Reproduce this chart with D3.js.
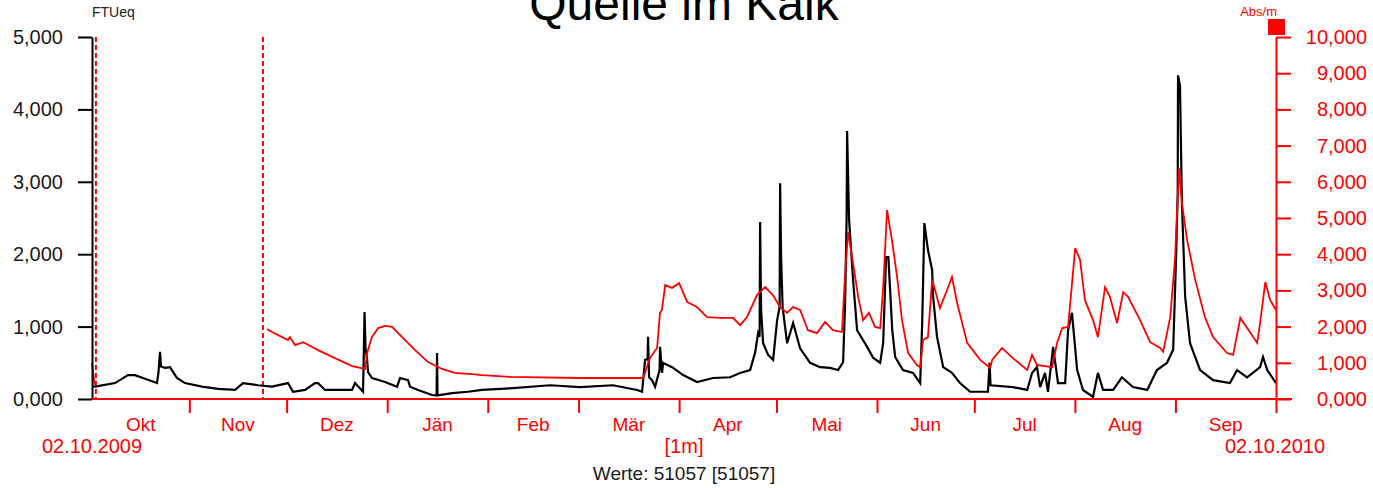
<!DOCTYPE html>
<html>
<head>
<meta charset="utf-8">
<script src="https://cdn.jsdelivr.net/npm/d3@7"></script>
<style>
  body { margin: 0; background: #fff; }
  svg { display: block; font-family: "Liberation Sans", Arial, sans-serif; }
</style>
</head>
<body>
<svg id="chart"></svg>
<script>
// days after 02.10.2009 00:00
const turbDays = [0, 0.92, 7.09, 11.10, 13.26, 16.34, 20.04, 20.50, 20.97, 21.27, 22.51, 24.05, 26.21, 28.67,
  33.91, 38.85, 44.09, 46.55, 51.18, 55.50, 60.43, 61.97, 65.67, 68.76, 69.68, 71.84, 80.16, 81.09, 83.56,
  84.02, 84.33, 84.79, 85.10, 86.33, 90.34, 94.04, 94.96, 97.43, 98.05, 100.51, 104.83, 106.22, 106.37,
  106.53, 111.0, 115.93, 120.24, 129.80, 141.21, 150.46, 160.63, 168.03, 169.57, 170.5, 171.27, 171.42,
  171.73, 172.66, 173.58, 174.97, 175.12, 175.74, 176.05, 178.83, 182.22, 186.54, 191.47, 196.71, 199.79,
  202.88, 204.42, 205.35, 205.81, 205.96, 206.27, 206.89, 208.43, 209.97, 211.21, 211.98, 212.13, 212.44,
  212.90, 214.29, 216.14, 218.29, 221.37, 224.46, 227.54, 230.01, 231.55, 232.17, 232.63, 232.78, 233.40,
  234.63, 235.86, 238.95, 240.80, 242.96,
  243.9, 244.8, 245.5, 246.7, 247.6, 250.0, 253.1, 255.3, 255.9, 256.6,
  257.7, 259.0, 259.3, 260.5, 262.4, 265.1, 267.6, 270.7, 276.2, 276.7, 277.0, 283.9, 288.3, 289.8,
  291.3, 292.3, 293.8, 294.7, 296.3, 297.8, 300.0, 300.9, 302.1, 303.7, 305.5, 308.6, 310.1, 311.7,
  314.8, 317.5, 320.9, 325.3, 328.3, 331.4, 333.3, 334.2, 334.7, 334.8, 335.4, 336.0, 337.0, 338.5,
  341.6, 345.6, 350.8, 353.0, 356.1, 360.1, 361.0, 362.3, 365.0];
const turbValues = [0.17, 0.17, 0.22, 0.33, 0.33, 0.28, 0.22, 0.37, 0.65, 0.45, 0.43, 0.44, 0.29, 0.22,
  0.17, 0.14, 0.125, 0.22, 0.19, 0.17, 0.22, 0.10, 0.125, 0.22, 0.22, 0.125, 0.125, 0.22, 0.10,
  1.20, 0.70, 0.55, 0.37, 0.29, 0.235, 0.17, 0.29, 0.26, 0.17, 0.125, 0.055, 0.05, 0.635,
  0.05, 0.08, 0.10, 0.125, 0.15, 0.19, 0.165, 0.19, 0.125, 0.10, 0.54, 0.55, 0.86,
  0.30, 0.26, 0.17, 0.40, 0.72, 0.36, 0.50, 0.44, 0.33, 0.235, 0.29, 0.30, 0.36,
  0.40, 0.64, 0.91, 0.86, 2.445, 1.23, 0.77, 0.61, 0.54, 1.09, 1.27, 2.98, 1.96,
  1.27, 0.77, 1.05, 0.70, 0.50, 0.44, 0.43, 0.40, 0.51, 1.33, 2.50, 3.70, 2.47,
  1.64, 0.95, 0.72, 0.57, 0.50,
  0.77, 1.96, 1.96, 0.95, 0.58, 0.40, 0.36, 0.22, 1.00, 2.43,
  2.06, 1.78, 1.41, 0.86, 0.44, 0.36, 0.22, 0.10, 0.10, 0.50, 0.19, 0.165, 0.125, 0.36,
  0.44, 0.165, 0.36, 0.10, 0.72, 0.22, 0.22, 0.95, 1.19, 0.40, 0.125, 0.03, 0.36, 0.125,
  0.125, 0.30, 0.165, 0.125, 0.40, 0.50, 0.68, 1.96, 2.86, 4.47, 4.33, 2.70, 1.41, 0.77,
  0.40, 0.26, 0.22, 0.40, 0.30, 0.44, 0.58, 0.40, 0.22];

const absDays = [0, 0.8, 1.0, 54.0, 55.5, 58.6, 60.4, 61.0, 62.6, 65.1, 69.7, 74.9, 80.2, 84.2, 84.8, 86.3,
  88.2, 90.3, 92.5, 95.6, 99.6, 103.6, 107.9, 111.9, 117.2, 120.2, 128.9, 150.4, 169.9, 172.0, 174.2,
  175.1, 175.7, 176.7, 178.8, 181.0, 183.5, 186.5, 189.6, 193.6, 197.6, 199.8, 201.9, 205.0, 207.5, 209.9,
  212.1, 214.3, 216.1, 218.3, 220.7, 223.5, 226.0, 228.4, 231.2, 232.1, 233.1, 234.6, 236.2, 237.7,
  239.5, 241.4, 243.0, 243.9, 245.1, 246.6, 248.2, 249.7, 251.6, 254.3, 255.3, 256.2, 257.7, 259.0,
  259.9, 261.4, 263.6, 265.1, 266.7, 269.8, 273.8, 276.9, 277.5, 280.5, 283.9, 288.3, 289.8, 291.3,
  296.0, 297.5, 299.1, 300.9, 303.1, 304.6, 306.1, 308.6, 310.1, 312.3, 313.8, 316.0, 317.9, 319.4,
  323.1, 326.2, 329.3, 330.2, 332.4, 333.9, 335.1, 336.0, 337.6, 340.1, 343.1, 345.6, 349.9, 351.8,
  354.0, 356.1, 359.2, 360.1, 361.7, 363.2, 365.0];
const absValues = [1.0, 0.4, null, 1.93, 1.85, 1.71, 1.63, 1.71, 1.49, 1.57, 1.35, 1.13, 0.91, 0.83, 1.27, 1.71,
  1.96, 2.02, 1.99, 1.71, 1.35, 1.02, 0.83, 0.72, 0.69, 0.66, 0.61, 0.58, 0.58, 1.13, 1.41,
  2.38, 2.46, 3.15, 3.07, 3.20, 2.68, 2.54, 2.26, 2.24, 2.24, 2.04, 2.26, 2.87, 3.09, 2.87,
  2.54, 2.38, 2.54, 2.46, 1.90, 1.82, 2.13, 1.90, 1.85, 3.37, 4.61, 3.76, 2.82, 2.18,
  2.38, 1.99, 1.96, 3.09, 5.22, 4.39, 3.37, 2.18, 1.27, 0.94, 0.88, 1.63, 1.71, 3.29,
  3.01, 2.51, 3.01, 3.37, 2.65, 1.55, 1.08, 0.86, 1.08, 1.41, 1.13, 0.80, 1.22, 0.94,
  0.88, 1.55, 1.96, 1.99, 4.17, 3.84, 2.73, 2.18, 1.71, 3.09, 2.82, 2.10, 2.95, 2.82,
  2.18, 1.57, 1.41, 1.30, 2.26, 3.92, 6.38, 5.41, 4.39, 3.29, 2.26, 1.71, 1.27, 1.22,
  2.24, 1.96, 1.55, 2.10, 3.23, 2.73, 2.46];

const markerDays = [1.2, 52.7];
const monthNames = ["Okt", "Nov", "Dez", "Jän", "Feb", "Mär", "Apr", "Mai", "Jun", "Jul", "Aug", "Sep"];
const monthStarts = ["2009-10-02", "2009-11-01", "2009-12-01", "2010-01-01", "2010-02-01", "2010-03-01",
  "2010-04-01", "2010-05-01", "2010-06-01", "2010-07-01", "2010-08-01", "2010-09-01", "2010-10-02"];
const leftTicks = [0, 1, 2, 3, 4, 5];
const rightTicks = [0, 1, 2, 3, 4, 5, 6, 7, 8, 9, 10];

const width = 1373, height = 488;
const red = '#ff0000';
const plotLeft = 92, plotRight = 1276, plotTop = 37, plotBottom = 399;

const parseDay = d3.utcParse('%Y-%m-%d');
const start = parseDay(monthStarts[0]);
const end = parseDay(monthStarts[monthStarts.length - 1]);
const toDate = d => d3.utcMinute.offset(start, Math.round(d * 1440));
const fmt = d3.formatLocale({ decimal: ',', thousands: '.', grouping: [3], currency: ['', ''] }).format('.3f');

let svg = d3.select('#chart').attr('width', width).attr('height', height);
svg.append('rect').attr('width', width).attr('height', height).attr('fill', '#fff');

let xScale = d3.scaleUtc().domain([start, end]).range([plotLeft, plotRight]);
let yLeft = d3.scaleLinear().domain([0, 5]).range([plotBottom, plotTop]);
let yRight = d3.scaleLinear().domain([0, 10]).range([plotBottom, plotTop]);

// title, partly cut off at the top as in the original
svg.append('text')
  .attr('x', 684).attr('y', 20)
  .attr('text-anchor', 'middle')
  .attr('font-size', 48)
  .attr('fill', '#000')
  .text('Quelle im Kalk');

svg.append('text')
  .attr('x', plotLeft).attr('y', 17)
  .attr('font-size', 14)
  .attr('fill', '#222')
  .text('FTUeq');

svg.append('text')
  .attr('x', plotRight + 1).attr('y', 16)
  .attr('text-anchor', 'end')
  .attr('font-size', 13)
  .attr('fill', red)
  .text('Abs/m');

svg.append('rect')
  .attr('x', 1268).attr('y', 19).attr('width', 17).attr('height', 16)
  .attr('fill', red);

// dashed markers
svg.selectAll('.marker')
  .data(markerDays)
  .enter()
  .append('line')
  .classed('marker', true)
  .attr('x1', d => xScale(toDate(d))).attr('x2', d => xScale(toDate(d)))
  .attr('y1', plotTop).attr('y2', plotBottom)
  .attr('stroke', red).attr('stroke-width', 2)
  .attr('stroke-dasharray', '5,3');

// series
let turb = turbDays.map((d, i) => ({ date: toDate(d), value: turbValues[i] }));
let abs = absDays.map((d, i) => ({ date: toDate(d), value: absValues[i] }));

svg.append('path')
  .datum(turb)
  .attr('fill', 'none')
  .attr('stroke', '#000')
  .attr('stroke-width', 2.2)
  .attr('d', d3.line().x(d => xScale(d.date)).y(d => yLeft(d.value)));

svg.append('path')
  .datum(abs)
  .attr('fill', 'none')
  .attr('stroke', red)
  .attr('stroke-width', 1.8)
  .attr('d', d3.line()
    .defined(d => d.value !== null)
    .x(d => xScale(d.date))
    .y(d => yRight(d.value)));

// left axis
let gLeft = svg.append('g')
  .attr('transform', 'translate(' + plotLeft + ',0)')
  .call(d3.axisLeft(yLeft).tickValues(leftTicks).tickFormat(fmt).tickSize(14).tickSizeOuter(0).tickPadding(15));
gLeft.select('.domain').attr('stroke', '#000').attr('stroke-width', 2);
gLeft.selectAll('.tick line').attr('stroke', '#000').attr('stroke-width', 2);
gLeft.selectAll('.tick text')
  .attr('font-family', '"Liberation Sans", Arial, sans-serif')
  .attr('font-size', 20)
  .attr('fill', '#1a1a1a');

// right axis
let gRight = svg.append('g')
  .attr('transform', 'translate(' + plotRight + ',0)')
  .call(d3.axisRight(yRight).tickValues(rightTicks).tickFormat(fmt).tickSize(15).tickSizeOuter(0));
gRight.select('.domain').attr('stroke', red).attr('stroke-width', 2);
gRight.selectAll('.tick line').attr('stroke', red).attr('stroke-width', 2);
gRight.selectAll('.tick text')
  .attr('text-anchor', 'end')
  .attr('x', 91)
  .attr('font-family', '"Liberation Sans", Arial, sans-serif')
  .attr('font-size', 20)
  .attr('fill', red);

// bottom axis
let monthDates = monthStarts.map(parseDay);
let gBottom = svg.append('g')
  .attr('transform', 'translate(0,' + plotBottom + ')')
  .call(d3.axisBottom(xScale).tickValues(monthDates.slice(1)).tickFormat('').tickSize(14).tickSizeOuter(0));
gBottom.select('.domain').remove();
gBottom.selectAll('.tick line').attr('stroke', red).attr('stroke-width', 2);
gBottom.append('line')
  .attr('x1', plotLeft).attr('x2', plotRight + 16)
  .attr('y1', 0).attr('y2', 0)
  .attr('stroke', red).attr('stroke-width', 2);

svg.selectAll('.month')
  .data(monthNames)
  .enter()
  .append('text')
  .classed('month', true)
  .attr('x', (d, i) => (xScale(monthDates[i]) + xScale(monthDates[i + 1])) / 2)
  .attr('y', 431)
  .attr('text-anchor', 'middle')
  .attr('font-size', 19)
  .attr('fill', red)
  .text(d => d);

svg.append('text')
  .attr('x', 92).attr('y', 453)
  .attr('text-anchor', 'middle')
  .attr('font-size', 20)
  .attr('fill', red)
  .text(d3.utcFormat('%d.%m.%Y')(start));

svg.append('text')
  .attr('x', 1275).attr('y', 453)
  .attr('text-anchor', 'middle')
  .attr('font-size', 20)
  .attr('fill', red)
  .text(d3.utcFormat('%d.%m.%Y')(end));

svg.append('text')
  .attr('x', 684).attr('y', 453)
  .attr('text-anchor', 'middle')
  .attr('font-size', 20)
  .attr('fill', red)
  .text('[1m]');

svg.append('text')
  .attr('x', 684).attr('y', 480)
  .attr('text-anchor', 'middle')
  .attr('font-size', 19)
  .attr('fill', '#1a1a1a')
  .text('Werte: 51057 [51057]');
</script>
</body>
</html>
